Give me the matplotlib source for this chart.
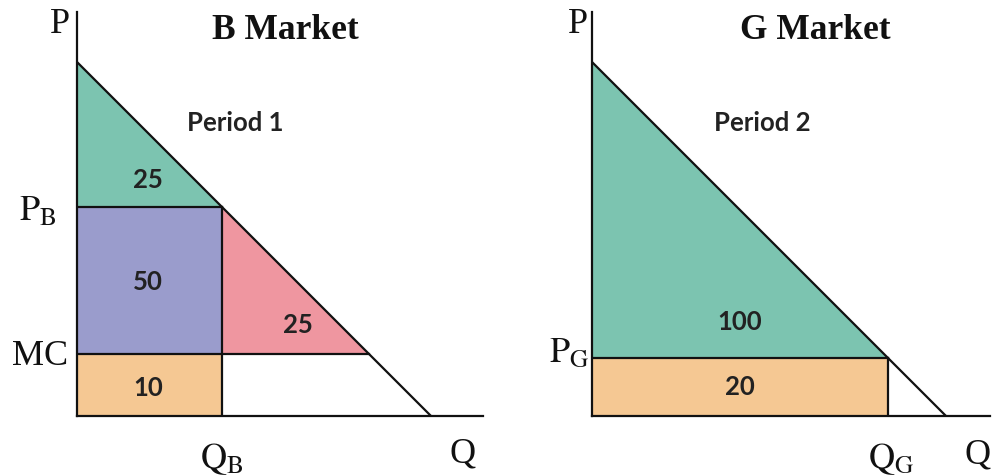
import matplotlib.pyplot as plt
from matplotlib.patches import Polygon

plt.rcParams['mathtext.fontset'] = 'stix'

# demand P = A - Q in both markets (arbitrary units)
A = 100.0
# B market, period 1
p_b, q_b, mc = 59.0, 41.0, 17.5
b_areas = [25, 50, 25, 10]   # consumer surplus, profit, deadweight loss, cost
# G market, period 2
p_g, q_g = 16.5, 83.5
g_areas = [100, 20]

GREEN = '#7cc4b0'
BLUE = '#9a9ccc'
PINK = '#ef96a0'
ORANGE = '#f5c893'

serif = 'Liberation Serif'
numfont = dict(family='Lato', fontsize=18.5, fontweight='bold', color='#222222',
               ha='center', va='center')
lab = dict(family=serif, fontsize=26, ha='center', va='center', color='#111111')
sub = dict(fontsize=26, ha='center', va='center', color='#111111')

fig = plt.figure(figsize=(9.92, 4.77), dpi=100)
W, H = 992, 477
PX = 3.54   # pixels per unit


def make_axes(x0, xmax_px):
    ax = fig.add_axes([x0 / W, (H - 417) / H, (xmax_px - x0) / W, 404 / H])
    ax.set_xlim(0, (xmax_px - x0) / PX)
    ax.set_ylim(0, 404 / PX)
    for s in ['top', 'right']:
        ax.spines[s].set_visible(False)
    for s in ['left', 'bottom']:
        ax.spines[s].set_linewidth(1.6)
        ax.spines[s].set_color('#111111')
    ax.set_xticks([])
    ax.set_yticks([])
    ax.patch.set_alpha(0)
    return ax


def demand(ax, q_end):
    ax.plot([0, q_end], [A, A - q_end], color='#111111', lw=1.6, clip_on=False,
            solid_capstyle='butt')


# ---- B market
ax1 = make_axes(77, 483)
q_m = A - mc
ax1.add_patch(Polygon([(0, A), (0, p_b), (q_b, p_b)], color=GREEN, lw=0))
ax1.add_patch(Polygon([(0, mc), (q_b, mc), (q_b, p_b), (0, p_b)], color=BLUE, lw=0))
ax1.add_patch(Polygon([(q_b, p_b), (q_b, mc), (q_m, mc)], color=PINK, lw=0))
ax1.add_patch(Polygon([(0, 0), (q_b, 0), (q_b, mc), (0, mc)], color=ORANGE, lw=0))
ax1.plot([0, q_b], [p_b, p_b], color='#111111', lw=1.6)
ax1.plot([0, q_m], [mc, mc], color='#111111', lw=1.6)
ax1.plot([q_b, q_b], [0, p_b], color='#111111', lw=1.6)
demand(ax1, A)

ax1.text(-4.8, 111, 'P', **lab)
ax1.text(58.8, 109.3, 'B Market', family=serif, fontsize=25.5, fontweight='bold',
         ha='center', va='center', color='#111111')
ax1.text(44.6, 83, 'Period 1', **numfont)
ax1.text(20, 67, str(b_areas[0]), **numfont)
ax1.text(20, 38, str(b_areas[1]), **numfont)
ax1.text(62.4, 26, str(b_areas[2]), **numfont)
ax1.text(20, 8.2, str(b_areas[3]), **numfont)
ax1.text(-11, 58.3, r'$\mathrm{P_B}$', **sub)
ax1.text(-10.3, 17, 'MC', **lab)
ax1.text(q_b, -12, r'$\mathrm{Q_B}$', **sub)
ax1.text(108.8, -10.5, 'Q', **lab)

# ---- G market
ax2 = make_axes(592, 990)
ax2.add_patch(Polygon([(0, A), (0, p_g), (q_g, p_g)], color=GREEN, lw=0))
ax2.add_patch(Polygon([(0, 0), (q_g, 0), (q_g, p_g), (0, p_g)], color=ORANGE, lw=0))
ax2.plot([0, q_g], [p_g, p_g], color='#111111', lw=1.6)
ax2.plot([q_g, q_g], [0, p_g], color='#111111', lw=1.6)
demand(ax2, A)

ax2.text(-4, 111, 'P', **lab)
ax2.text(63, 109.3, 'G Market', family=serif, fontsize=25.5, fontweight='bold',
         ha='center', va='center', color='#111111')
ax2.text(48, 83, 'Period 2', **numfont)
ax2.text(41.8, 26.8, str(g_areas[0]), **numfont)
ax2.text(41.8, 8.5, str(g_areas[1]), **numfont)
ax2.text(-6.5, 18.5, r'$\mathrm{P_G}$', **sub)
ax2.text(q_g + 1, -12, r'$\mathrm{Q_G}$', **sub)
ax2.text(108.8, -10.7, 'Q', **lab)

fig.savefig('out.png', dpi=100, facecolor='white')
